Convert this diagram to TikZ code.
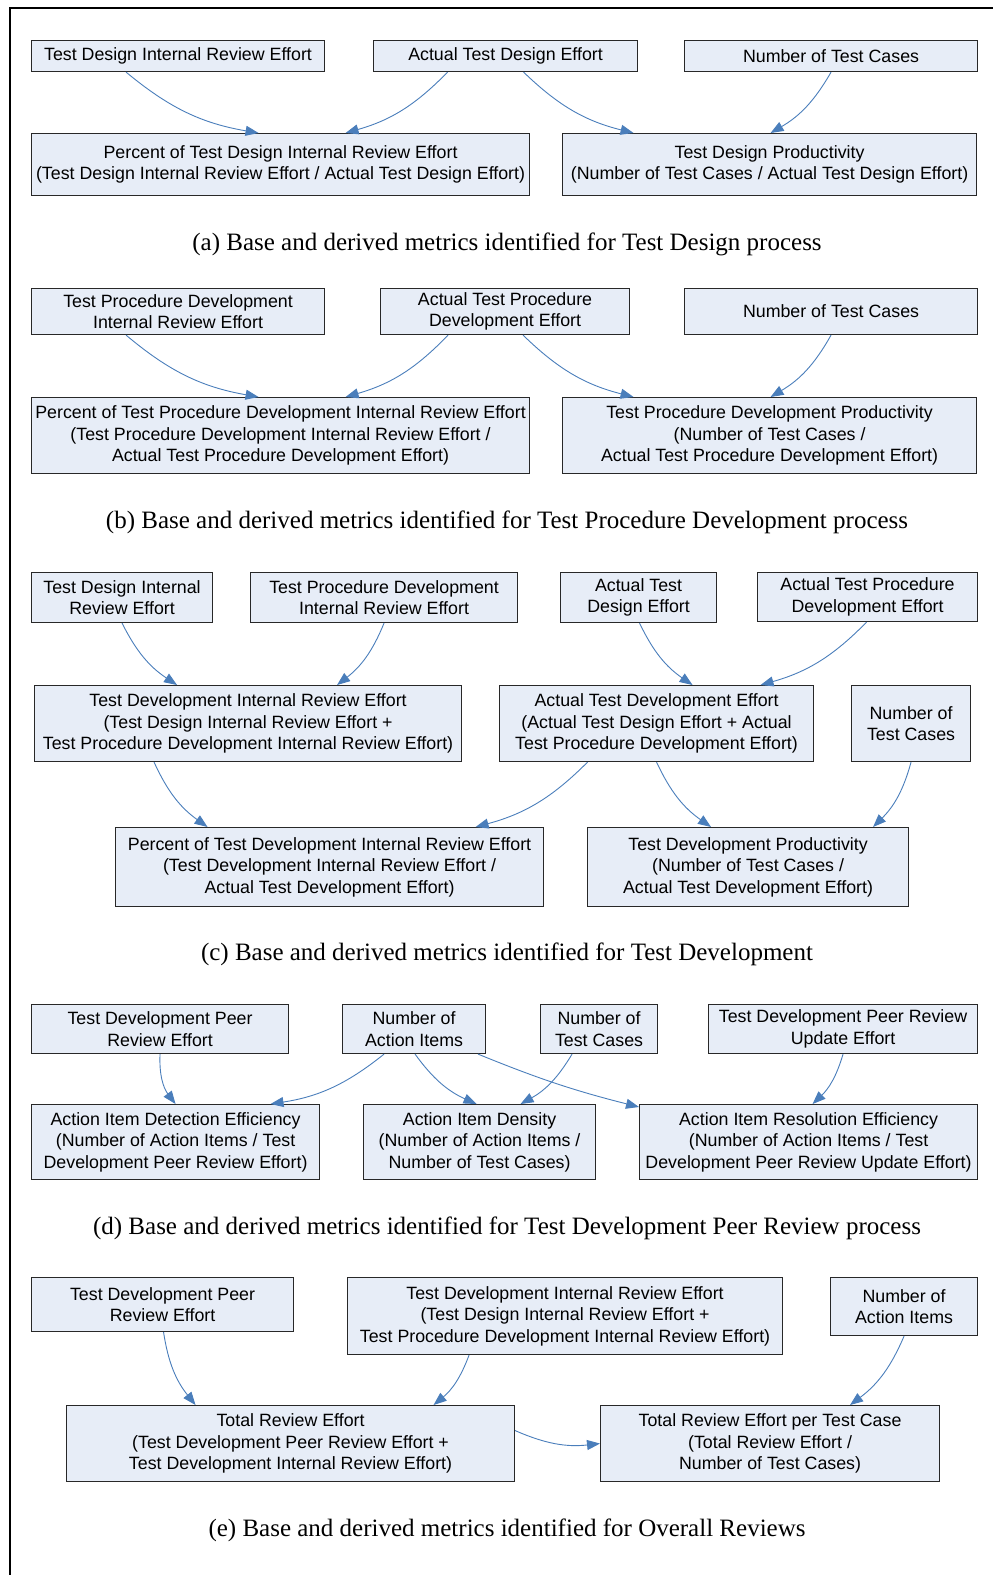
\documentclass[tikz,border=0pt]{standalone}
\usepackage{fontspec}
\setmainfont{Liberation Serif}
\newfontfamily\boxfont{Liberation Sans}
\usetikzlibrary{arrows.meta}
\definecolor{boxfill}{RGB}{231,237,247}
\definecolor{linkblue}{RGB}{74,126,187}
\definecolor{boxline}{RGB}{40,40,40}
\tikzset{
  metric/.style={draw=boxline, line width=1.1pt, fill=boxfill, align=center,
    inner sep=0pt, anchor=north west, font=\boxfont\fontsize{17.8}{21.5}\selectfont},
  link/.style={draw=linkblue, line width=0.9pt, -{Triangle[length=13pt,width=10pt]}},
  caption/.style={font=\fontsize{25}{29}\selectfont, inner sep=0pt}
}
\begin{document}
\begin{tikzpicture}[x=1pt,y=-1pt]
\useasboundingbox (0,0) rectangle (993,1575);
% outer frame (top and left edges)
\draw[line width=2pt] (10,1575) -- (10,8) -- (993,8);

% ---------- (a) Test Design ----------
\node[metric, minimum width=293pt, minimum height=31pt] (a1) at (31,40) {Test Design Internal Review Effort};
\node[metric, minimum width=264pt, minimum height=31pt] (a2) at (373,40) {Actual Test Design Effort};
\node[metric, minimum width=293pt, minimum height=31pt] (a3) at (684,40) {Number of Test Cases};
\node[metric, minimum width=498pt, minimum height=62pt] (a4) at (31,133) {Percent of Test Design Internal Review Effort\\(Test Design Internal Review Effort / Actual Test Design Effort)};
\node[metric, minimum width=414pt, minimum height=62pt] (a5) at (562,133) {Test Design Productivity\\(Number of Test Cases / Actual Test Design Effort)};
\draw[link] ([xshift=-52]a1.south) to[bend right=15] ([xshift=-22]a4.north);
\draw[link] ([xshift=-58]a2.south) to[bend left=15] ([xshift=65]a4.north);
\draw[link] ([xshift=18]a2.south) to[bend right=15] ([xshift=-136]a5.north);
\draw[link] ([xshift=0]a3.south) to[bend left=15] ([xshift=1]a5.north);
\node[caption] (capa) at (507,244) {(a) Base and derived metrics identified for Test Design process};

% ---------- (b) Test Procedure Development ----------
\node[metric, minimum width=293pt, minimum height=46pt] (b1) at (31,288) {Test Procedure Development\\Internal Review Effort};
\node[metric, minimum width=249pt, minimum height=46pt] (b2) at (380,288) {Actual Test Procedure\\Development Effort};
\node[metric, minimum width=293pt, minimum height=46pt] (b3) at (684,288) {Number of Test Cases};
\node[metric, minimum width=498pt, minimum height=76pt] (b4) at (31,397) {Percent of Test Procedure Development Internal Review Effort\\(Test Procedure Development Internal Review Effort /\\Actual Test Procedure Development Effort)};
\node[metric, minimum width=414pt, minimum height=76pt] (b5) at (562,397) {Test Procedure Development Productivity\\(Number of Test Cases /\\Actual Test Procedure Development Effort)};
\draw[link] ([xshift=-52]b1.south) to[bend right=15] ([xshift=-22]b4.north);
\draw[link] ([xshift=-57]b2.south) to[bend left=15] ([xshift=65]b4.north);
\draw[link] ([xshift=18]b2.south) to[bend right=15] ([xshift=-136]b5.north);
\draw[link] ([xshift=0]b3.south) to[bend left=15] ([xshift=1]b5.north);
\node[caption] (capb) at (507,522) {(b) Base and derived metrics identified for Test Procedure Development process};

% ---------- (c) Test Development ----------
\node[metric, minimum width=181pt, minimum height=50pt] (c1) at (31,572) {Test Design Internal\\Review Effort};
\node[metric, minimum width=267pt, minimum height=50pt] (c2) at (250,572) {Test Procedure Development\\Internal Review Effort};
\node[metric, minimum width=156pt, minimum height=50pt] (c3) at (560,572) {Actual Test\\Design Effort};
\node[metric, minimum width=220pt, minimum height=49pt] (c4) at (757,572) {Actual Test Procedure\\Development Effort};
\node[metric, minimum width=427pt, minimum height=76pt] (c5) at (34,685) {Test Development Internal Review Effort\\(Test Design Internal Review Effort +\\Test Procedure Development Internal Review Effort)};
\node[metric, minimum width=314pt, minimum height=76pt] (c6) at (499,685) {Actual Test Development Effort\\(Actual Test Design Effort + Actual\\Test Procedure Development Effort)};
\node[metric, minimum width=119pt, minimum height=76pt] (c7) at (851,685) {Number of\\Test Cases};
\node[metric, minimum width=428pt, minimum height=79pt] (c8) at (115,827) {Percent of Test Development Internal Review Effort\\(Test Development Internal Review Effort /\\Actual Test Development Effort)};
\node[metric, minimum width=321pt, minimum height=79pt] (c9) at (587,827) {Test Development Productivity\\(Number of Test Cases /\\Actual Test Development Effort)};
\draw[link] ([xshift=0]c1.south) to[bend right=15] ([xshift=-71]c5.north);
\draw[link] ([xshift=0]c2.south) to[bend left=15] ([xshift=89]c5.north);
\draw[link] ([xshift=1]c3.south) to[bend right=15] ([xshift=36]c6.north);
\draw[link] ([xshift=-1]c4.south) to[bend left=15] ([xshift=104]c6.north);
\draw[link] ([xshift=-94]c5.south) to[bend right=15] ([xshift=-122]c8.north);
\draw[link] ([xshift=-69]c6.south) to[bend left=15] ([xshift=146]c8.north);
\draw[link] ([xshift=0]c6.south) to[bend right=15] ([xshift=-37]c9.north);
\draw[link] ([xshift=0]c7.south) to[bend left=15] ([xshift=125]c9.north);
\node[caption] (capc) at (507,954) {(c) Base and derived metrics identified for Test Development};

% ---------- (d) Test Development Peer Review ----------
\node[metric, minimum width=257pt, minimum height=49pt] (d1) at (31,1004) {Test Development Peer\\Review Effort};
\node[metric, minimum width=143pt, minimum height=49pt] (d2) at (342,1004) {Number of\\Action Items};
\node[metric, minimum width=117pt, minimum height=49pt] (d3) at (540,1004) {Number of\\Test Cases};
\node[metric, minimum width=269pt, minimum height=49pt] (d4) at (708,1004) {Test Development Peer Review\\Update Effort};
\node[metric, minimum width=288pt, minimum height=75pt] (d5) at (31,1104) {Action Item Detection Efficiency\\(Number of Action Items / Test\\Development Peer Review Effort)};
\node[metric, minimum width=232pt, minimum height=75pt] (d6) at (363,1104) {Action Item Density\\(Number of Action Items /\\Number of Test Cases)};
\node[metric, minimum width=338pt, minimum height=75pt] (d7) at (639,1104) {Action Item Resolution Efficiency\\(Number of Action Items / Test\\Development Peer Review Update Effort)};
\draw[link] ([xshift=0]d1.south) to[bend right=20] ([xshift=0]d5.north);
\draw[link] ([xshift=-30]d2.south) to[bend left=15] ([xshift=95]d5.north);
\draw[link] ([xshift=1]d2.south) to[bend right=15] ([xshift=-3]d6.north);
\draw[link] ([xshift=-27]d3.south) to[bend left=15] ([xshift=41]d6.north);
\draw[link] ([xshift=64]d2.south) to[bend right=4] ([yshift=-3]d7.north west);
\draw[link] ([xshift=0]d4.south) to[bend left=15] ([xshift=4]d7.north);
\node[caption] (capd) at (507,1228) {(d) Base and derived metrics identified for Test Development Peer Review process};

% ---------- (e) Overall Reviews ----------
\node[metric, minimum width=262pt, minimum height=54pt] (e1) at (31,1277) {Test Development Peer\\Review Effort};
\node[metric, minimum width=435pt, minimum height=77pt] (e2) at (347,1277) {Test Development Internal Review Effort\\(Test Design Internal Review Effort +\\Test Procedure Development Internal Review Effort)};
\node[metric, minimum width=147pt, minimum height=58pt] (e3) at (830,1277) {Number of\\Action Items};
\node[metric, minimum width=448pt, minimum height=76pt] (e4) at (66,1405) {Total Review Effort\\(Test Development Peer Review Effort +\\Test Development Internal Review Effort)};
\node[metric, minimum width=339pt, minimum height=76pt] (e5) at (600,1405) {Total Review Effort per Test Case\\(Total Review Effort /\\Number of Test Cases)};
\draw[link] ([xshift=1]e1.south) to[bend right=15] ([xshift=-95]e4.north);
\draw[link] ([xshift=-96]e2.south) to[bend left=15] ([xshift=143]e4.north);
\draw[link] ([xshift=0]e3.south) to[bend left=15] ([xshift=80]e5.north);
\draw[link] ([yshift=13]e4.east) to[bend right=15] (e5.west);
\node[caption] (cape) at (507,1530) {(e) Base and derived metrics identified for Overall Reviews};
\end{tikzpicture}
\end{document}
